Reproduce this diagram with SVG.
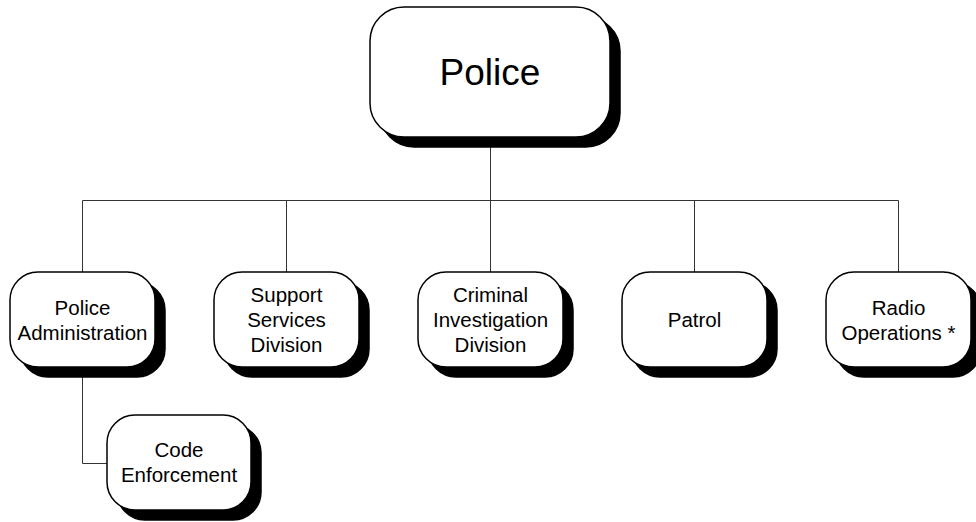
<svg xmlns="http://www.w3.org/2000/svg" width="976" height="522" viewBox="0 0 976 522">
<style>
.sh{fill:#000;stroke:#000;stroke-width:1.5}
.bx{fill:#fff;stroke:#000;stroke-width:1.5}
.t{font-family:"Liberation Sans",Arial,sans-serif;font-size:20.5px;fill:#000;text-anchor:middle}
.tb{font-family:"Liberation Sans",Arial,sans-serif;font-size:37px;fill:#000;text-anchor:middle}
.c{fill:none;stroke:#333;stroke-width:1}
</style>
<rect width="976" height="522" fill="#fff"/>
<g id="connectors">
<path class="c" d="M490.5 137V200.5M82.5 200.5H898.5M82.5 200.5V272M286.5 200.5V272M490.5 200.5V272M694.5 200.5V272M898.5 200.5V272M82.5 367V463.5H107"/>
</g>
<g id="police">
<rect class="sh" x="380" y="17" width="240" height="130" rx="34"/>
<rect class="bx" x="370" y="7" width="240" height="130" rx="34"/>
<text class="tb" x="490" y="85">Police</text>
</g>
<g id="police-administration">
<rect class="sh" x="20" y="282" width="145" height="95" rx="28"/>
<rect class="bx" x="10" y="272" width="145" height="95" rx="28"/>
<text class="t" x="82.5" y="314.5">Police</text>
<text class="t" x="82.5" y="339.5">Administration</text>
</g>
<g id="support-services">
<rect class="sh" x="224" y="282" width="145" height="95" rx="28"/>
<rect class="bx" x="214" y="272" width="145" height="95" rx="28"/>
<text class="t" x="286.5" y="302">Support</text>
<text class="t" x="286.5" y="327">Services</text>
<text class="t" x="286.5" y="352">Division</text>
</g>
<g id="criminal-investigation">
<rect class="sh" x="428" y="282" width="145" height="95" rx="28"/>
<rect class="bx" x="418" y="272" width="145" height="95" rx="28"/>
<text class="t" x="490.5" y="302">Criminal</text>
<text class="t" x="490.5" y="327">Investigation</text>
<text class="t" x="490.5" y="352">Division</text>
</g>
<g id="patrol">
<rect class="sh" x="632" y="282" width="145" height="95" rx="28"/>
<rect class="bx" x="622" y="272" width="145" height="95" rx="28"/>
<text class="t" x="694.5" y="327">Patrol</text>
</g>
<g id="radio-operations">
<rect class="sh" x="836" y="282" width="145" height="95" rx="28"/>
<rect class="bx" x="826" y="272" width="145" height="95" rx="28"/>
<text class="t" x="898.5" y="314.5">Radio</text>
<text class="t" x="898.5" y="339.5">Operations *</text>
</g>
<g id="code-enforcement">
<rect class="sh" x="117" y="425" width="144" height="95" rx="28"/>
<rect class="bx" x="107" y="415" width="144" height="95" rx="28"/>
<text class="t" x="179" y="457">Code</text>
<text class="t" x="179" y="482">Enforcement</text>
</g>
</svg>
